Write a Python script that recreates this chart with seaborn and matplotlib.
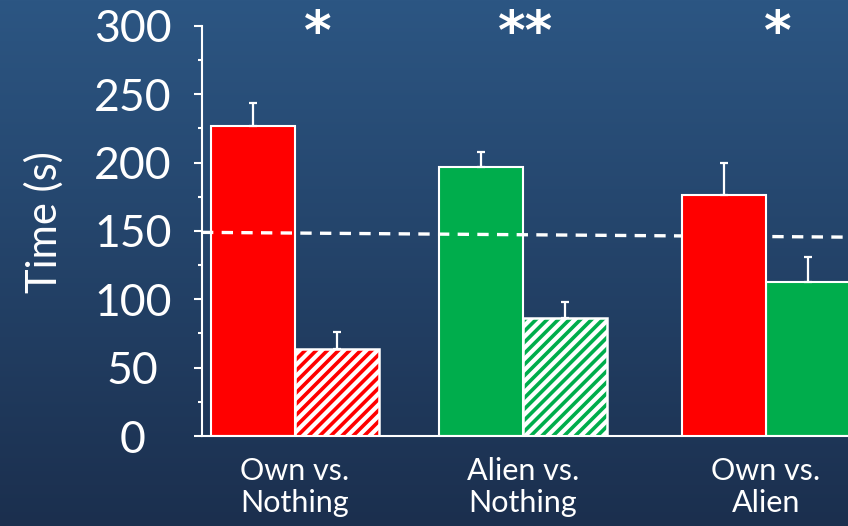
import numpy as np
import pandas as pd
import matplotlib
matplotlib.use("Agg")
import matplotlib.pyplot as plt
from matplotlib.patches import Rectangle
import seaborn as sns

# ---- data -------------------------------------------------------------
groups = ["Own vs.\nNothing", "Alien vs.\nNothing", "Own vs.\nAlien"]
first_choice = [227, 197, 176]        # time (s), left bar of each pair
first_err = [17, 11, 24]
second_choice = [64, 86, 113]         # time (s), right bar of each pair
second_err = [12, 12, 18]
significance = ["*", "**", "*"]
chance_level = [149, 145.5]           # dashed reference line, left -> right
y_ticks = [0, 50, 100, 150, 200, 250, 300]

# ---- layout / styling -------------------------------------------------
group_pos = [0.0, 0.968, 2.0]
star_pos = [0.098, 0.981, 2.051]
RED = "#ff0000"
GREEN = "#00ad4c"
first_colors = [RED, GREEN, RED]
second_colors = [RED, GREEN, GREEN]
second_hatched = [True, True, False]

sns.set_style("ticks")
plt.rcParams["font.family"] = ["Lato", "DejaVu Sans"]
plt.rcParams["hatch.linewidth"] = 2.6

df = pd.DataFrame({
    "pos": group_pos * 2,
    "side": ["first"] * len(groups) + ["second"] * len(groups),
    "value": first_choice + second_choice,
})

fig = plt.figure(figsize=(8.48, 5.26), dpi=100)

# vertical blue gradient behind everything
bg = fig.add_axes([0, 0, 1, 1], zorder=-10)
grad_top = np.array([44, 86, 131]) / 255
grad_bot = np.array([27, 47, 78]) / 255
t = np.linspace(0, 1, 256)[:, None]
grad = grad_top[None, :] * (1 - t) + grad_bot[None, :] * t
bg.imshow(grad[:, None, :], aspect="auto", extent=[0, 1, 0, 1])
bg.axis("off")

ax = fig.add_axes([0.2382, 0.1711, 0.7618, 0.7795])
ax.patch.set_alpha(0)

sns.barplot(data=df, x="pos", y="value", hue="side",
            hue_order=["first", "second"], native_scale=True,
            width=0.7366, dodge=True, errorbar=None, legend=False, ax=ax)

ax.set_xlim(-0.395, 2.348)
ax.set_ylim(0, 300)

first_bars = ax.containers[0]
second_bars = ax.containers[1]

for bar, col in zip(first_bars, first_colors):
    bar.set_facecolor(col)
    bar.set_edgecolor("white")
    bar.set_linewidth(1.5)
    bar.set_zorder(1)

for bar, col, hatched in zip(second_bars, second_colors, second_hatched):
    bar.set_zorder(1)
    if hatched:
        bar.set_facecolor("white")
        bar.set_edgecolor(col)
        bar.set_hatch("///")
        bar.set_linewidth(0)
        ax.add_patch(Rectangle((bar.get_x(), bar.get_y()), bar.get_width(),
                               bar.get_height(), fill=False,
                               edgecolor="white", linewidth=1.8, zorder=1.5))
    else:
        bar.set_facecolor(col)
        bar.set_edgecolor("white")
        bar.set_linewidth(1.5)

# the last pair sits in front of the chance line
first_bars[2].set_zorder(5)

# chance line
x0, x1 = ax.get_xlim()
ax.plot([x0, x1], chance_level, color="white", lw=2.4,
        dashes=(3.4, 2.5), zorder=3)

# upward-only error bars
for bars, vals, errs in ((first_bars, first_choice, first_err),
                         (second_bars, second_choice, second_err)):
    xs = [b.get_x() + b.get_width() / 2 for b in bars]
    ax.errorbar(xs, vals, yerr=[np.zeros(len(errs)), errs], fmt="none",
                ecolor="white", elinewidth=1.6, capsize=3, capthick=1.6,
                zorder=6)

# significance markers
for x, s in zip(star_pos, significance):
    ax.text(x, 283, s, ha="center", va="baseline", color="white",
            fontsize=38, fontweight="bold", family="DejaVu Sans",
            clip_on=False)

# axes styling
for side in ("top", "right"):
    ax.spines[side].set_visible(False)
for side in ("left", "bottom"):
    ax.spines[side].set_color("white")
    ax.spines[side].set_linewidth(1.5)

ax.set_yticks(y_ticks)
ax.set_yticks(np.arange(25, 300, 50), minor=True)
ax.tick_params(axis="y", which="major", length=5.8, width=1.5,
               color="white", labelcolor="white", labelsize=32, pad=44)
ax.tick_params(axis="y", which="minor", length=3, width=1.5, color="white")
for lab in ax.get_yticklabels():
    lab.set_horizontalalignment("center")

ax.set_xticks(group_pos)
ax.set_xticklabels(groups)
ax.tick_params(axis="x", length=0, labelcolor="white", labelsize=22, pad=15)
for lab in ax.get_xticklabels():
    lab.set_linespacing(1.2)

ax.set_xlabel("")
ax.set_ylabel("Time (s)", color="white", fontsize=30)
ax.yaxis.label.set_verticalalignment("center")
ax.yaxis.set_label_coords(-0.2446, 0.522)

fig.savefig("out.png", dpi=100)
